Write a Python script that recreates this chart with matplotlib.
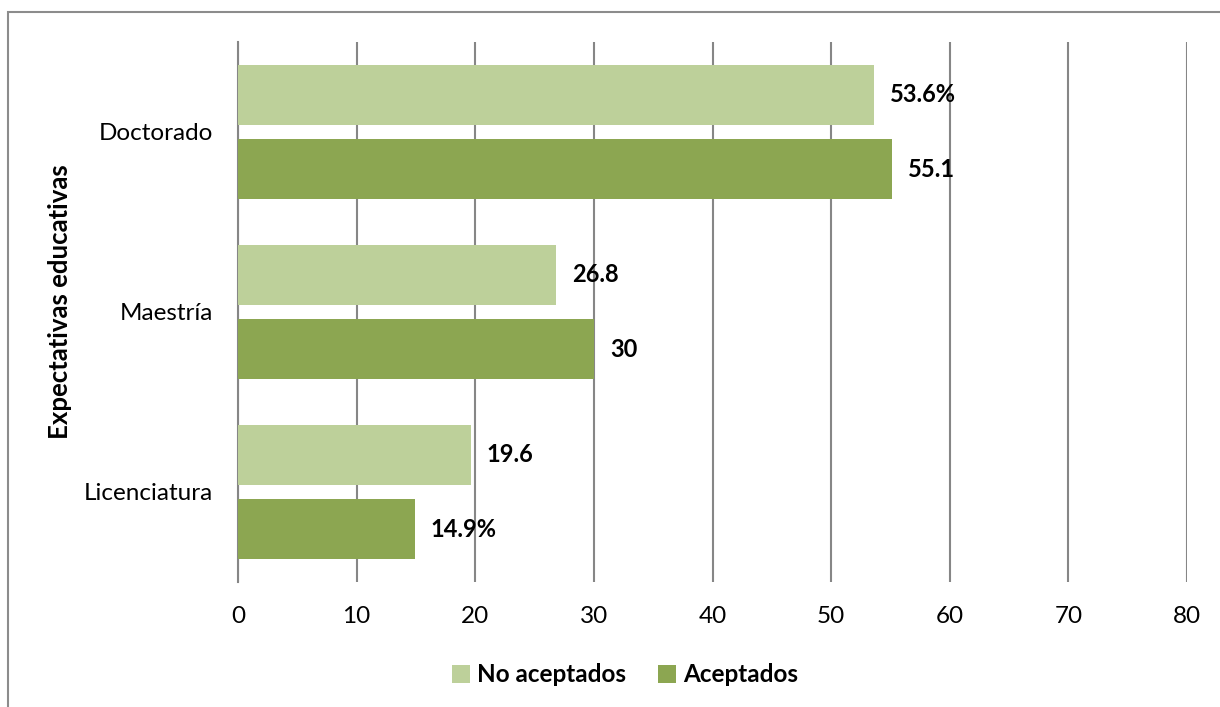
import numpy as np
import matplotlib.pyplot as plt
from matplotlib.patches import Rectangle

plt.rcParams['font.family'] = ['Lato', 'DejaVu Sans']

categorias = ["Licenciatura", "Maestría", "Doctorado"]
no_aceptados = [19.6, 26.8, 53.6]
aceptados = [14.9, 30.0, 55.1]
etiq_no = ["19.6", "26.8", "53.6%"]
etiq_si = ["14.9%", "30", "55.1"]
xticks = [0, 10, 20, 30, 40, 50, 60, 70, 80]

c_light = "#BDD09A"
c_dark = "#8CA651"
c_grid = "#868686"

fig = plt.figure(figsize=(12.2, 7.07), dpi=100)
ax = fig.add_axes([238 / 1220, 1 - 582 / 707, (1187 - 238) / 1220, 540 / 707])

# chart border (left / top visible, rest off-canvas)
fig.patches.append(Rectangle((8 / 1220, -0.1), 1.2, 1 - 12 / 707 + 0.1,
                             transform=fig.transFigure, fill=False,
                             edgecolor="#8C8C8C", linewidth=1.5))

y = np.arange(len(categorias))
h = 0.333
off = 0.208
b1 = ax.barh(y + off, no_aceptados, height=h, color=c_light, label="No aceptados", zorder=3)
b2 = ax.barh(y - off, aceptados, height=h, color=c_dark, label="Aceptados", zorder=3)

for bars, labs in ((b1, etiq_no), (b2, etiq_si)):
    for r, t in zip(bars, labs):
        ax.annotate(t, (r.get_width(), r.get_y() + r.get_height() / 2),
                    xytext=(16, 0), textcoords="offset pixels",
                    ha="left", va="center", fontsize=17, fontweight="bold", zorder=4)

ax.set_xlim(0, 80)
ax.set_ylim(-0.5, 2.5)
ax.set_xticks(xticks)
ax.set_yticks(y)
ax.set_yticklabels(categorias)
ax.tick_params(axis="both", length=0, labelsize=17.5)
ax.tick_params(axis="x", pad=17)
ax.tick_params(axis="y", pad=18)
ax.xaxis.grid(True, color=c_grid, linewidth=1.5, zorder=0)
for s in ("top", "right", "bottom"):
    ax.spines[s].set_visible(False)
ax.spines["left"].set_color(c_grid)
ax.spines["left"].set_linewidth(1.5)

fig.text(60 / 1220, 1 - 302 / 707, "Expectativas educativas", rotation=90,
         ha="center", va="center", fontsize=18.5, fontweight="bold")

fig.legend(handles=[b1, b2], loc="center", bbox_to_anchor=(625 / 1220, 1 - 675 / 707),
           ncol=2, frameon=False, handlelength=0.75, handleheight=0.75,
           handletextpad=0.3, columnspacing=1.3,
           prop={"size": 17.5, "weight": "bold"})

fig.savefig("out.png", dpi=100)
